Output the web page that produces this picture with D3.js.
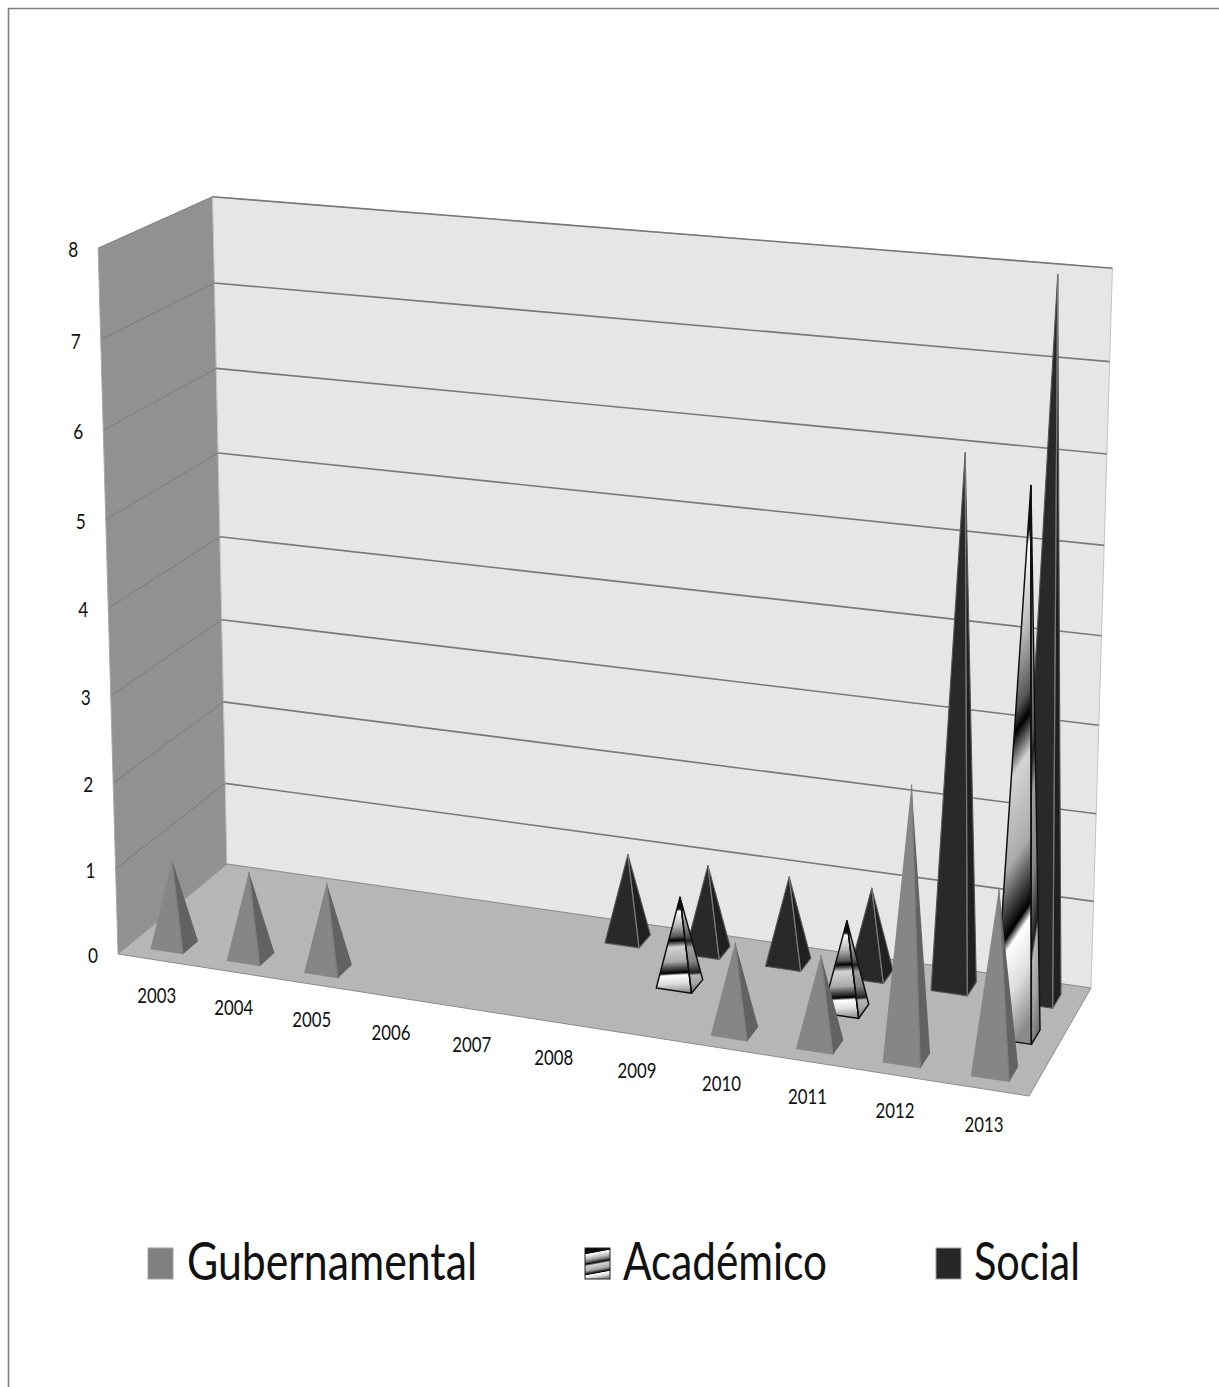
<!DOCTYPE html>
<html>

<head>
  <meta charset="utf-8">
  <title>Gubernamental, Académico, Social</title>
  <script src="https://d3js.org/d3.v7.min.js"></script>
  <style>
    html, body { margin: 0; padding: 0; background: #fff; }
    svg { display: block; }
    text { font-family: Lato, "Open Sans", sans-serif; fill: #111; }
  </style>
</head>

<body>
  <script>
    // values
    var years = ["2003", "2004", "2005", "2006", "2007", "2008", "2009", "2010", "2011", "2012", "2013"];
    var seriesNames = ["Gubernamental", "Académico", "Social"];
    var gubernamental = [1, 1, 1, 0, 0, 0, 0, 1, 1, 3, 2];
    var academico = [0, 0, 0, 0, 0, 0, 1, 0, 1, 0, 6];
    var social = [0, 0, 0, 0, 0, 1, 1, 1, 1, 6, 8];
    var valueTicks = [0, 1, 2, 3, 4, 5, 6, 7, 8];

    var width = 1219, height = 1387;

    var svg = d3.select("body").append("svg").attr("width", width).attr("height", height);
    var defs = svg.append("defs");

    // 1. scales in unit cube, then a perspective projection onto the page
    var xScale = d3.scaleBand().domain(years).range([0.001, 1.0]);
    var zScale = d3.scalePoint().domain(seriesNames).range([0.155, 0.835]);
    var yScale = d3.scaleLinear().domain([0, 8]).range([0, 1]);

    // corners of the 3d box measured on the page
    var F0 = [118, 954], F1 = [1029, 1096], B0 = [227, 864], B1 = [1091, 988];
    var F0top = [98, 248], B0top = [213, 197], B1top = [1112, 268];

    function h(p) { return [p[0], p[1], 1]; }
    function det(m) {
      return m[0][0] * (m[1][1] * m[2][2] - m[1][2] * m[2][1])
        - m[0][1] * (m[1][0] * m[2][2] - m[1][2] * m[2][0])
        + m[0][2] * (m[1][0] * m[2][1] - m[1][1] * m[2][0]);
    }
    function solve(m, b) {
      var d = det(m);
      return [0, 1, 2].map(function (c) {
        return det(m.map(function (row, i) {
          return row.map(function (v, j) { return j === c ? b[i] : v; });
        })) / d;
      });
    }

    var F0h = h(F0), F1h = h(F1), B0h = h(B0), B1h = h(B1);
    var w = solve([0, 1, 2].map(function (i) { return [F1h[i], B0h[i], -B1h[i]]; }), F0h);
    var A = F1h.map(function (v, i) { return w[0] * v - F0h[i]; });
    var B = B0h.map(function (v, i) { return w[1] * v - F0h[i]; });

    // vertical direction: least squares on the three top corners we can see,
    // the back wall counts more than the front edge of the side wall
    var rows = [], rhs = [];
    [[F0h, F0top, 0.3], [B0h.map(function (v) { return v * w[1]; }), B0top, 1], [B1h.map(function (v) { return v * w[2]; }), B1top, 1]]
      .forEach(function (c) {
        var k = c[2];
        rows.push([k, 0, -k * c[1][0]]); rhs.push(k * (c[1][0] * c[0][2] - c[0][0]));
        rows.push([0, k, -k * c[1][1]]); rhs.push(k * (c[1][1] * c[0][2] - c[0][1]));
      });
    var ata = [0, 1, 2].map(function (i) {
      return [0, 1, 2].map(function (j) { return d3.sum(rows, function (r) { return r[i] * r[j]; }); });
    });
    var atb = [0, 1, 2].map(function (i) { return d3.sum(rows, function (r, k) { return r[i] * rhs[k]; }); });
    var C = solve(ata, atb);

    function project(sx, tz, wy) {
      // foreshortening along the floor is a little weaker than the corners give
      var sw = sx + 0.012 * sx * (1 - sx);
      var p = [0, 1, 2].map(function (i) { return F0h[i] + sw * A[i] + tz * B[i] + wy * C[i]; });
      // small shear with height, the fit above leaves the top edge a bit too flat
      return [p[0] / p[2], p[1] / p[2] + wy * (-5 + 11 * sx)];
    }
    var line = d3.line();
    function poly(points) { return line(points) + "Z"; }

    var chart = svg.append("g").style("filter", "blur(0.6px)");

    // frame of the picture
    chart.append("path").attr("d", line([[8.5, height], [8.5, 8.5], [width, 8.5]]))
      .attr("fill", "none").attr("stroke", "#7f7f7f").attr("stroke-width", 1.6);

    // 2. walls and floor
    chart.append("path").attr("d", poly([project(0, 0, 0), project(0, 1, 0), project(0, 1, 1), project(0, 0, 1)]))
      .attr("fill", "#919191").attr("stroke", "#a8a8a8");
    chart.append("path").attr("d", poly([project(0, 1, 0), project(1, 1, 0), project(1, 1, 1), project(0, 1, 1)]))
      .attr("fill", "#e6e6e6").attr("stroke", "#c4c4c4");
    chart.append("path").attr("d", poly([project(0, 0, 0), project(1, 0, 0), project(1, 1, 0), project(0, 1, 0)]))
      .attr("fill", "#b6b6b6").attr("stroke", "#8c8c8c");

    // 3. gridlines
    chart.append("g").selectAll("path").data(valueTicks.slice(1)).enter().append("path")
      .attr("d", function (d) { return line([project(0, 0, yScale(d)), project(0, 1, yScale(d))]); })
      .attr("stroke", "#7b7b7b").attr("fill", "none");
    chart.append("g").selectAll("path").data(valueTicks.slice(1)).enter().append("path")
      .attr("d", function (d) { return line([project(0, 1, yScale(d)), project(1, 1, yScale(d))]); })
      .attr("stroke", "#787878").attr("stroke-width", 1.6).attr("fill", "none");

    // 4. gradient of the Académico series
    var stripes = [
      [0, "#000"], [0.125, "#111"], [0.15, "#fff"], [0.3, "#b5b5b5"], [0.41, "#555"], [0.45, "#000"],
      [0.49, "#777"], [0.52, "#d4d4d4"], [0.67, "#aaa"], [0.76, "#2a2a2a"], [0.79, "#000"], [0.815, "#fff"],
      [0.9, "#ddd"], [1, "#8a8a8a"]
    ];
    function addGradient(id, tilt, shade) {
      var g = defs.append("linearGradient").attr("id", id)
        .attr("x1", 0.5 - tilt / 2).attr("y1", 0).attr("x2", 0.5 + tilt / 2).attr("y2", 1);
      stripes.forEach(function (s) {
        g.append("stop").attr("offset", s[0]).attr("stop-color", d3.interpolateRgb(s[1], "#4a4a4a")(shade));
      });
    }
    addGradient("stripe-front", 0.02, 0);
    addGradient("stripe-side", 0.02, 0.4);
    addGradient("stripe-front-tall", 0.1, 0);
    addGradient("stripe-side-tall", 0.1, 0.4);
    addGradient("stripe-legend", 0.15, 0);

    // 5. pyramids, back series first
    var styles = {
      "Gubernamental": { front: "#868686", side: "#626262", ridge: "#7c7c7c", edge: "none", width: 1.1 },
      "Académico": {
        front: function (d) { return d.value > 2 ? "url(#stripe-front-tall)" : "url(#stripe-front)"; },
        side: function (d) { return d.value > 2 ? "url(#stripe-side-tall)" : "url(#stripe-side)"; },
        ridge: "#111", edge: "#111", width: 1.5
      },
      "Social": { front: "#292929", side: "#202020", ridge: "#777", edge: "#555", width: 1.1 }
    };
    var seriesValues = { "Gubernamental": gubernamental, "Académico": academico, "Social": social };
    var halfX = xScale.bandwidth() * 0.215, halfZ = 0.068;

    seriesNames.slice().reverse().forEach(function (name) {
      var st = styles[name];
      var cells = years.map(function (y, i) { return { year: y, value: seriesValues[name][i] }; })
        .filter(function (d) { return d.value > 0; });
      var g = chart.append("g").attr("class", "series");
      var cell = g.selectAll("g").data(cells).enter().append("g");

      function corners(d) {
        var cx = xScale(d.year) + xScale.bandwidth() / 2, cz = zScale(name);
        return {
          fl: project(cx - halfX, cz - halfZ, 0),
          fr: project(cx + halfX, cz - halfZ, 0),
          br: project(cx + halfX, cz + halfZ, 0),
          top: project(cx, cz, yScale(d.value))
        };
      }
      cell.append("path")
        .attr("d", function (d) { var c = corners(d); return poly([c.fl, c.fr, c.top]); })
        .attr("fill", st.front).attr("stroke", st.edge).attr("stroke-width", st.width).attr("stroke-linejoin", "round");
      cell.append("path")
        .attr("d", function (d) { var c = corners(d); return poly([c.fr, c.br, c.top]); })
        .attr("fill", st.side).attr("stroke", st.edge).attr("stroke-width", st.width).attr("stroke-linejoin", "round");
      cell.append("path")
        .attr("d", function (d) { var c = corners(d); return line([c.fr, c.top]); })
        .attr("fill", "none").attr("stroke", st.ridge).attr("stroke-width", 1.2);
    });

    // 6. axis labels
    svg.append("g").selectAll("text").data(years).enter().append("text")
      .attr("x", function (d) { return project(xScale(d) + xScale.bandwidth() / 2, 0, 0)[0]; })
      .attr("y", function (d) { return project(xScale(d) + xScale.bandwidth() / 2, 0, 0)[1] + 43; })
      .attr("text-anchor", "middle").attr("font-size", 21)
      .attr("textLength", 39).attr("lengthAdjust", "spacingAndGlyphs")
      .text(function (d) { return d; });

    svg.append("g").selectAll("text").data(valueTicks).enter().append("text")
      .attr("x", function (d) { return project(0, 0, yScale(d))[0] - 25; })
      .attr("y", function (d) { return project(0, 0, yScale(d))[1] + 9; })
      .attr("text-anchor", "middle").attr("font-size", 21)
      .attr("textLength", 10).attr("lengthAdjust", "spacingAndGlyphs")
      .text(function (d) { return d; });

    // 7. legend
    var legendX = d3.scaleOrdinal().domain(seriesNames).range([148, 585, 936]);
    var legendText = d3.scaleOrdinal().domain(seriesNames).range([290, 204, 106]);
    var legendFill = { "Gubernamental": "#808080", "Académico": "url(#stripe-legend)", "Social": "#272727" };

    var item = svg.append("g").selectAll("g").data(seriesNames).enter().append("g")
      .attr("transform", function (d) { return "translate(" + legendX(d) + ",1248)"; });
    item.append("rect").attr("width", 25).attr("height", 31)
      .attr("fill", function (d) { return legendFill[d]; })
      .attr("stroke", function (d) { return d === "Académico" ? "#222" : "#a0a0a0"; });
    item.append("text")
      .attr("x", function (d) { return d === "Gubernamental" ? 39 : 38; })
      .attr("y", 32).attr("font-size", 53)
      .attr("textLength", function (d) { return legendText(d); }).attr("lengthAdjust", "spacingAndGlyphs")
      .text(function (d) { return d; });
  </script>
</body>

</html>
